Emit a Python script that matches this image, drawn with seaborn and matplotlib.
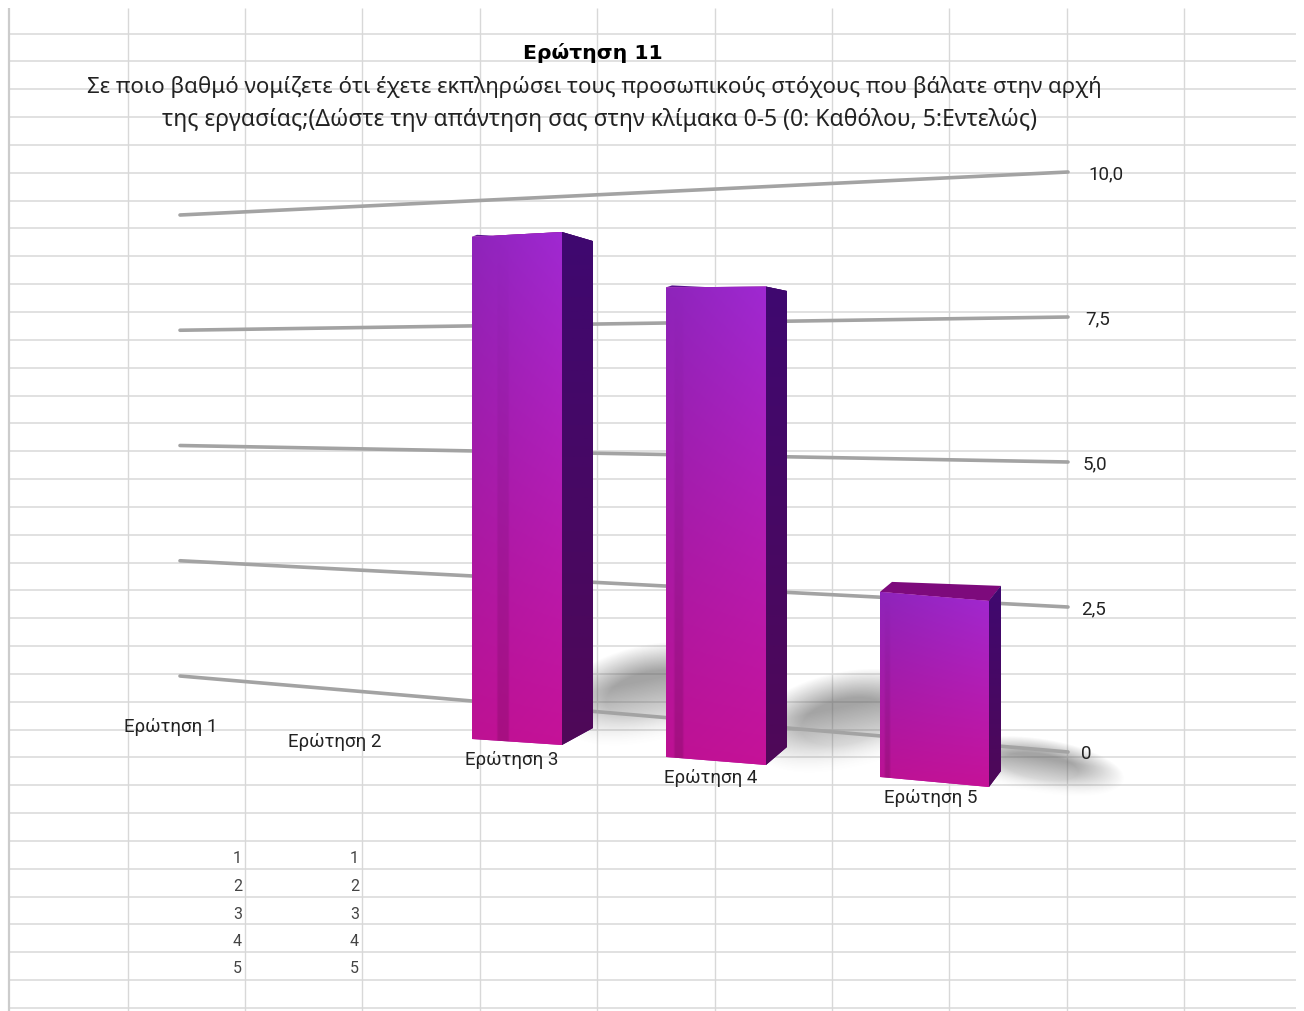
# -*- coding: utf-8 -*-
import numpy as np
import pandas as pd
import matplotlib
matplotlib.use("Agg")
import matplotlib.pyplot as plt
from matplotlib.colors import to_rgb
from matplotlib.patches import Polygon
from matplotlib.transforms import Transform
import seaborn as sns

# data
categories = ["Ερώτηση 1", "Ερώτηση 2", "Ερώτηση 3", "Ερώτηση 4", "Ερώτηση 5"]
values = [0, 0, 9, 8, 3]
axis_ticks = [0, 2.5, 5, 7.5, 10]
axis_labels = ["0", "2,5", "5,0", "7,5", "10,0"]
table_rows = [1, 2, 3, 4, 5]
title = "Ερώτηση 11"
subtitle_lines = ["Σε ποιο βαθμό νομίζετε ότι έχετε εκπληρώσει τους προσωπικούς στόχους που βάλατε στην αρχή",
                  "της εργασίας;(Δώστε την απάντηση σας στην κλίμακα 0-5 (0: Καθόλου, 5:Εντελώς)"]

# layout of the fake 3d scene, all in pixels of the 1304x1012 picture
W, H = 1304, 1012
label_pos = [(171, 727), (335, 742), (512, 760), (711, 778), (931, 798)]
tick_label_x = [1081, 1081, 1083, 1085, 1088]
# x, floor y, pixels per unit for: front left, front right, side right, back left
bar_geom = {
    2: dict(fl=(472, 740, 55.8), fr=(562, 746, 57.0), sr=(593, 729, 54.1), bl=(477, 738, 55.8)),
    3: dict(fl=(666, 758, 58.7), fr=(766, 766, 59.8), sr=(787, 748, 57.0), bl=(672, 756, 58.7)),
    4: dict(fl=(880, 778, 61.7), fr=(989, 788, 62.0), sr=(1001, 772, 61.7), bl=(892, 768, 61.7)),
}
# dark vertical stripe on the front face, as fractions of its width
stripes = {2: (0.27, 0.42), 3: (0.07, 0.18), 4: (0.03, 0.10)}
top_colors = {2: "#5b1290", 3: "#5b1290", 4: "#7d0a7c"}
shadows = [(650, 695, 100, 50, -12), (845, 722, 100, 50, -12), (1040, 767, 85, 28, 9)]

sns.set_theme(style="white")
plt.rcParams["font.family"] = ["Noto Sans", "DejaVu Sans"]
LABEL_FONT = ["Roboto", "Liberation Sans"]


class BarProjection(Transform):
    # maps (category position, value) of one bar onto its slanted front face
    input_dims = 2
    output_dims = 2

    def __init__(self, x0, width, left, right):
        super().__init__()
        self.x0, self.width, self.left, self.right = x0, width, left, right

    def transform_non_affine(self, xy):
        xy = np.asarray(xy, dtype=float)
        t = (xy[:, 0] - self.x0) / self.width
        a, b = np.array(self.left), np.array(self.right)
        px = a[0] + t * (b[0] - a[0])
        py = a[1] + t * (b[1] - a[1]) - xy[:, 1] * (a[2] + t * (b[2] - a[2]))
        return np.column_stack([px, py])


def corner(g, v):
    return (g[0], g[1] - v * g[2])


def wall(x, v):
    # back wall lines: spread out towards the right hand side
    t = (x - 180) / 888
    return 677 + 76 * t - v * (46.1 + 11.9 * t)


def gradient(c_top, c_bottom, n=200):
    t = np.linspace(0, 1, n)[:, None, None]
    return (1 - t) * np.array(to_rgb(c_top))[None, None, :] + t * np.array(to_rgb(c_bottom))[None, None, :]


fig = plt.figure(figsize=(W / 100, H / 100), dpi=100, facecolor="white")
ax = fig.add_axes([0, 0, 1, 1])

# the spreadsheet behind the chart
row_y = 34.6 + 27.84 * np.arange(36)
col_x = 127.5 + 117.4 * np.arange(10)
ax.hlines(row_y, 9, 1296, color="#dcdcdc", lw=1.2, zorder=1)
ax.vlines(col_x, 9, 1012, color="#d8d8d8", lw=1.0, zorder=1)
ax.vlines([9], 9, 1012, color="#cccccc", lw=1.6, zorder=1)

# soft shadows on the floor, darkest along their upper edge
yy, xx = np.mgrid[600:830, 560:1140]
for cx, cy, a, b, ang in shadows:
    th = np.deg2rad(ang)
    dx, dy = xx - cx, yy - cy
    u = dx * np.cos(th) + dy * np.sin(th)
    w = -dx * np.sin(th) + dy * np.cos(th)
    r = np.sqrt((u / a) ** 2 + (w / b) ** 2)
    fade = np.clip((b - w) / (1.3 * b), 0, 1)
    alpha = 0.55 * np.clip((1 - r) / 0.55, 0, 1) * fade
    rgba = np.dstack([np.full_like(alpha, 0.35)] * 3 + [alpha])
    ax.imshow(rgba, extent=(560, 1140, 830, 600), aspect="auto", zorder=1.5, interpolation="bilinear")

# value lines
grid_df = pd.DataFrame([{"level": v, "x": x, "y": wall(x, v)} for v in axis_ticks for x in (180, 1068)])
sns.lineplot(data=grid_df, x="x", y="y", units="level", estimator=None, color="#a3a3a3",
             lw=2.6, legend=False, ax=ax, zorder=2)
for v, lab, lx in zip(axis_ticks, axis_labels, tick_label_x):
    ax.text(lx, wall(1068, v) + 1, lab, family=LABEL_FONT, fontsize=13.5, color="#222222",
            ha="left", va="center", zorder=5)

# bars
df = pd.DataFrame({"category": categories, "value": values})
sns.barplot(data=df, x="category", y="value", color="#b0189f", saturation=1, ax=ax, zorder=3, linewidth=0)
bars = sorted(ax.patches, key=lambda p: p.get_x())
for i, patch in enumerate(bars):
    v = values[i]
    if i not in bar_geom or v == 0:
        continue
    g = bar_geom[i]
    patch.set_transform(BarProjection(patch.get_x(), patch.get_width(), g["fl"], g["fr"]) + ax.transData)

    fl, fr, sr, bl = g["fl"], g["fr"], g["sr"], g["bl"]
    top_poly = Polygon([corner(fl, v), corner(bl, v), corner(sr, v), corner(fr, v)],
                       fc=top_colors[i], ec="none", zorder=2.8)
    ax.add_patch(top_poly)

    side = Polygon([corner(fr, v), corner(sr, v), corner(sr, 0), corner(fr, 0)], fc="#4a0a6a", ec="none", zorder=2.9)
    ax.add_patch(side)
    ymin = min(corner(fr, v)[1], corner(sr, v)[1])
    ymax = max(fr[1], sr[1])
    im = ax.imshow(gradient("#3f0870", "#4f0858"), extent=(fr[0], sr[0], ymax, ymin), aspect="auto", zorder=2.95)
    im.set_clip_path(side)

    # front face: purple at the top, magenta at the floor, with a dark stripe and a lighter right edge
    ymin = min(corner(fl, v)[1], corner(fr, v)[1])
    ymax = max(fl[1], fr[1])
    grad = np.repeat(gradient("#9526c4", "#c8129a"), 120, axis=1)
    s = np.linspace(0, 1, 120)[None, :, None]
    t = np.linspace(0, 1, 200)[:, None, None]
    grad = grad * (0.95 + 0.12 * s * (1 - 0.7 * t))
    a, b = stripes[i]
    grad = grad * (1 - 0.13 * np.clip(np.minimum(s - a, b - s) / 0.02, 0, 1) * t)
    im = ax.imshow(np.clip(grad, 0, 1), extent=(fl[0], fr[0], ymax, ymin), aspect="auto", zorder=3.1,
                   interpolation="bilinear")
    # a Rectangle as clip path would only clip to its bounding box
    im.set_clip_path(patch.get_path(), patch.get_transform())

# category labels sit on the slanted floor, not on the axis
for lab, (lx, ly) in zip(categories, label_pos):
    ax.text(lx, ly, lab, family=LABEL_FONT, fontsize=13.5, color="#222222", ha="center", va="center", zorder=5)

# little table in the cells
for r, ry in zip(table_rows, [859, 887, 915, 942, 969]):
    ax.text(242, ry, str(r), family=LABEL_FONT, fontsize=11.5, color="#444444", ha="right", va="center", zorder=5)
    ax.text(359, ry, str(r), family=LABEL_FONT, fontsize=11.5, color="#444444", ha="right", va="center", zorder=5)

ax.text(593, 53, title, family="DejaVu Sans", fontsize=14.7, fontweight="bold", color="black",
        ha="center", va="center", zorder=5)
ax.text(594, 87, subtitle_lines[0], fontsize=16.0, color="#222222", ha="center", va="center", zorder=5)
ax.text(600, 120, subtitle_lines[1], fontsize=16.5, color="#222222", ha="center", va="center", zorder=5)

ax.set_xlim(0, W)
ax.set_ylim(H, 0)
ax.set_axis_off()

fig.savefig("out.png", dpi=100, facecolor="white")
plt.close(fig)
